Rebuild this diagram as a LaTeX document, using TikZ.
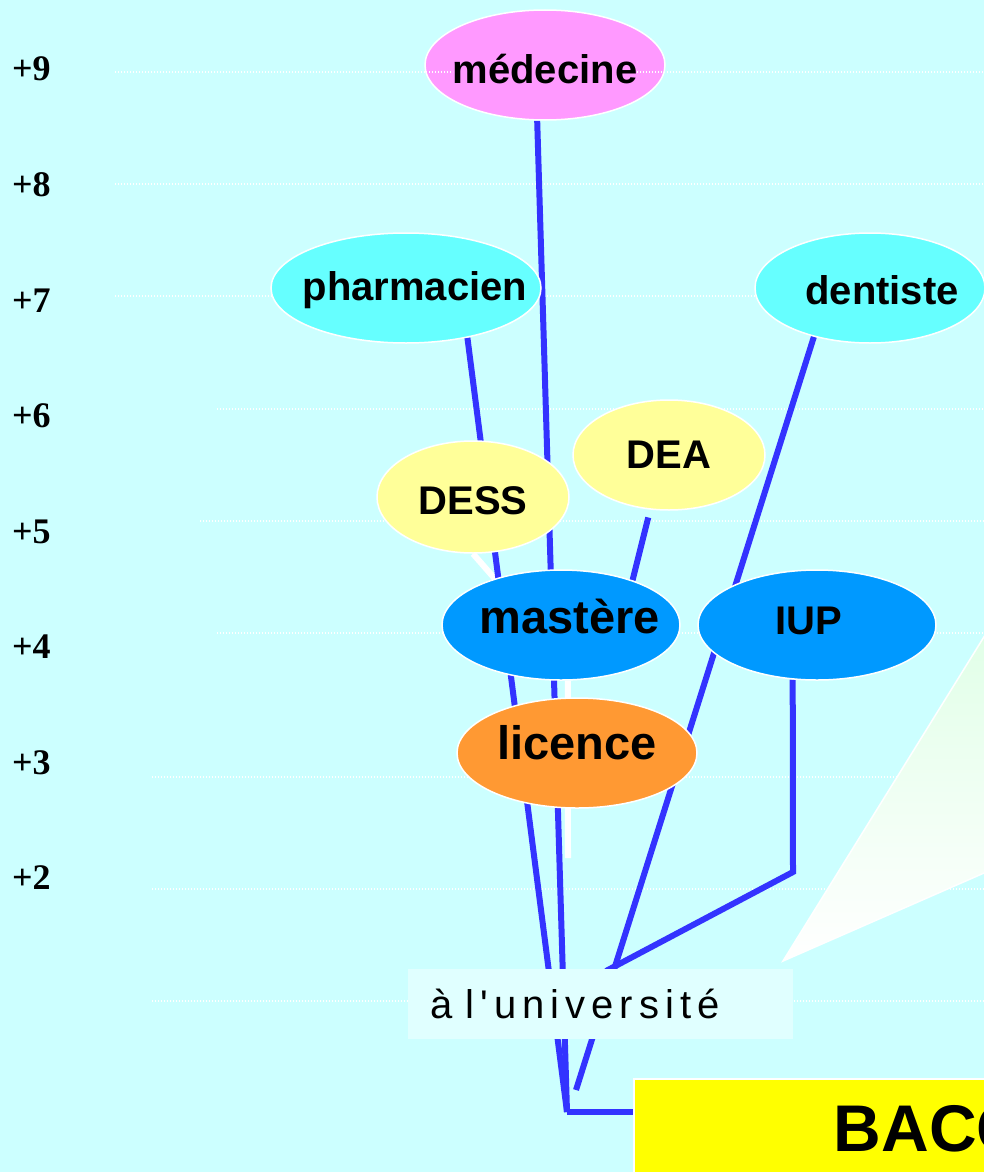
\documentclass[tikz,border=0pt]{standalone}
\usepackage{fontspec}
\usetikzlibrary{shapes.geometric,calc}
\newfontfamily\arialfont{Liberation Sans}
\newfontfamily\tnrfont{Liberation Serif}
\newfontfamily\spacedfont[LetterSpace=15]{Liberation Sans}
\definecolor{bgcyan}{HTML}{CCFFFF}
\definecolor{linkblue}{HTML}{3333FF}
\definecolor{pinkfill}{HTML}{FF99FF}
\definecolor{aquafill}{HTML}{66FFFF}
\definecolor{yellowfill}{HTML}{FFFF99}
\definecolor{bluefill}{HTML}{0099FF}
\definecolor{orangefill}{HTML}{FF9933}
\definecolor{boxcyan}{HTML}{E0FFFF}
\definecolor{mint}{HTML}{DFFFE6}
\definecolor{baccyellow}{HTML}{FFFF00}
\pgfdeclarelayer{back}
\pgfdeclarelayer{conn}
\pgfsetlayers{back,conn,main}
\tikzset{
  oval/.style={ellipse, draw=white, line width=1.5pt, inner sep=0pt},
  lbl/.style={font=\arialfont\bfseries\fontsize{40}{48}\selectfont, inner sep=0pt, text=black},
  biglbl/.style={font=\arialfont\bfseries\fontsize{47}{56}\selectfont, inner sep=0pt, text=black},
  tick/.style={font=\tnrfont\bfseries\fontsize{36}{40}\selectfont, inner sep=0pt, anchor=base west},
  link/.style={draw=linkblue, line width=6pt},
  whitelink/.style={draw=white, line width=6pt},
  gridline/.style={draw=white, line width=1.2pt, dash pattern=on 1.2pt off 1.8pt},
  unibox/.style={fill=boxcyan, text width=341pt, inner xsep=22pt, inner ysep=0pt,
    minimum height=70pt, align=left, font=\spacedfont\fontsize{40}{42}\selectfont, text=black},
  bacbox/.style={fill=baccyellow, draw=white, line width=1.5pt, minimum width=591pt,
    minimum height=101pt, inner sep=0pt, font=\arialfont\bfseries\fontsize{66}{70}\selectfont}
}
\begin{document}
\begin{tikzpicture}[x=1pt,y=-1pt]
\useasboundingbox (0,0) rectangle (984,1172);
\begin{pgfonlayer}{back}
  \fill[bgcyan] (0,0) rectangle (984,1172);
  \foreach \yy/\xx in {72/115,184/115,296/115,409/217,521/200,633/217,777/152,889/152,1001/152}
    \draw[gridline] (\xx,\yy) -- (984,\yy);
\end{pgfonlayer}

% left scale
\foreach \k in {2,...,9}
  \node[tick] (lab\k) at (12,{81+(9-\k)*115.5}) {+\k};

% callout pointer
\shade[top color=mint, bottom color=white] (783,961) -- (1000,611) -- (1000,866) -- cycle;
\draw[white, line width=1.5pt] (1000,611) -- (783,961) -- (1000,866);

% nodes
\node[oval, fill=pinkfill, minimum width=240pt, minimum height=110pt,
  label={[lbl, yshift=-4pt]center:médecine}] (med) at (545,65) {};
\draw[gridline] (426,72) -- (453,72) (637,72) -- (664,72);
\node[oval, fill=aquafill, minimum width=270pt, minimum height=110pt,
  label={[lbl, xshift=9pt, yshift=-2pt]center:pharmacien}] (pharm) at (406,288) {};
\node[oval, fill=aquafill, minimum width=230pt, minimum height=110pt,
  label={[lbl, xshift=12pt, yshift=-2pt]center:dentiste}] (dent) at (870,288) {};
\node[oval, fill=yellowfill, minimum width=192pt, minimum height=112pt,
  label={[lbl, yshift=-4pt]center:DESS}] (dess) at (473,497) {};
\node[oval, fill=yellowfill, minimum width=192pt, minimum height=110pt,
  label={[lbl]center:DEA}] (dea) at (669,455) {};
\node[oval, fill=bluefill, minimum width=238pt, minimum height=110pt,
  label={[biglbl, xshift=9pt, yshift=9pt]center:mastère}] (mast) at (561,625) {};
\node[oval, fill=bluefill, minimum width=238pt, minimum height=110pt,
  label={[lbl, xshift=-8pt, yshift=4pt]center:IUP}] (iup) at (817,625) {};
\node[oval, fill=orangefill, minimum width=240pt, minimum height=110pt,
  label={[biglbl, yshift=10pt]center:licence}] (lic) at (577,753) {};

\node[unibox, anchor=west] (univ) at (408,1004) {à l'université};
\node[bacbox, anchor=north west] (bac) at (633,1078) {BACC};

% connectors
\coordinate (hub) at (567,1112);
\coordinate (dentend) at (576,1090);
\coordinate (iupcorner) at (793,872);
\coordinate (iupend) at (606,971);
\coordinate (whiteend) at (568,858);
\begin{pgfonlayer}{conn}
  \draw[whitelink] (dess.-90) -- (mast.145);
  \draw[whitelink] (mast.-83) -- (whiteend);
  \draw[link] (med.-98) -- (hub);
  \draw[link] (pharm.-39) -- (hub);
  \draw[link] (dent.-139) -- (dentend);
  \draw[link] (iup.-114) -- (iupcorner) -- (iupend);
  \draw[link, shorten <=8pt] (dea.-109) -- (mast.32);
  \draw[link] (hub) -- (hub -| bac.west);
\end{pgfonlayer}
\end{tikzpicture}
\end{document}
